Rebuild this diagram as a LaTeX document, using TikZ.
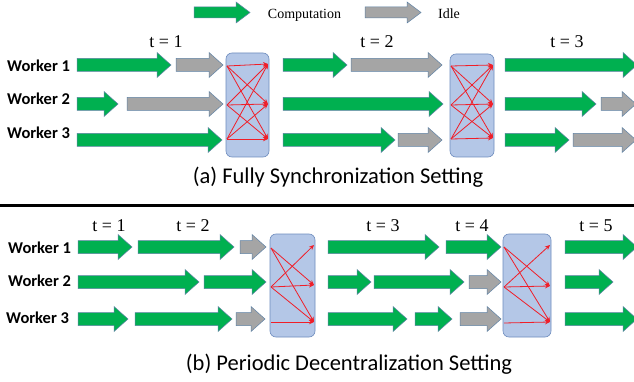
\documentclass[tikz,border=0pt]{standalone}
\usepackage{fontspec}
\setmainfont{Carlito}
\newfontfamily\tnr{Liberation Serif}
\usetikzlibrary{arrows.meta}
\definecolor{cgreen}{RGB}{0,176,80}
\definecolor{cgray}{RGB}{165,165,165}
\definecolor{cedge}{RGB}{95,130,165}
\definecolor{boxfill}{RGB}{180,199,231}
\definecolor{boxedge}{RGB}{110,140,190}
\definecolor{syncred}{RGB}{240,30,40}
% block arrow: x1, x2, y, fill colour, half shaft, half head
\newcommand{\blkarr}[6]{%
  \filldraw[fill=#4,draw=cedge,line width=0.5pt,line join=miter]
    (#1,#3-#5) -- (#2-14,#3-#5) -- (#2-14,#3-#6) -- (#2,#3)
    -- (#2-14,#3+#6) -- (#2-14,#3+#5) -- (#1,#3+#5) -- cycle;}
\newcommand{\garr}[3]{\blkarr{#1}{#2}{#3}{cgreen}{6.5}{12.5}}
\newcommand{\iarr}[3]{\blkarr{#1}{#2}{#3}{cgray}{6.5}{12.5}}
\tikzset{
  syncbox/.style={draw=boxedge,fill=boxfill,rounded corners=6pt,line width=0.6pt,inner sep=0pt},
  sync/.style={draw=syncred,line width=0.8pt,-{Stealth[length=5pt,width=4.5pt]}},
  worker/.style={anchor=base west,inner sep=0pt,font=\fontsize{16.5}{18}\selectfont\bfseries},
  tlabel/.style={anchor=base,inner sep=0pt,font=\tnr\fontsize{18}{20}\selectfont},
  legtext/.style={anchor=base,inner sep=0pt,font=\tnr\fontsize{14}{16}\selectfont},
  caption/.style={anchor=base,inner sep=0pt,font=\fontsize{22.5}{24}\selectfont},
}
\begin{document}
\begin{tikzpicture}[x=1pt,y=-1pt]
\clip (0,0) rectangle (634,382);
\fill[white] (0,0) rectangle (634,382);
% legend
\blkarr{194}{250}{12.5}{cgreen}{5.5}{10.5}
\node[legtext] (lcomp) at (304.5,19) {Computation};
\blkarr{365}{421}{12.5}{cgray}{5.5}{10.5}
\node[legtext] (lidle) at (449,19) {Idle};
% ---------- (a) ----------
\node[tlabel] (ta1) at (166,48) {t = 1};
\node[tlabel] (ta2) at (377,48) {t = 2};
\node[tlabel] (ta3) at (567,48) {t = 3};
\node[worker] (wa1) at (7,72) {Worker 1};
\node[worker] (wa2) at (7,105) {Worker 2};
\node[worker] (wa3) at (7,139) {Worker 3};
% row 1
\garr{77}{171}{65}
\iarr{176}{223}{65}
\garr{283}{347}{65}
\iarr{351}{442}{65}
\garr{505}{637}{65}
% row 2
\garr{77}{118}{104}
\iarr{127}{223}{104}
\garr{283}{443}{104}
\garr{505}{596}{104}
\iarr{601}{636}{104}
% row 3
\garr{77}{222}{140}
\garr{283}{395}{140}
\iarr{398}{442}{140}
\garr{505}{569}{140}
\iarr{573}{636}{140}
% sync boxes (a)
\node[syncbox,minimum width=43pt,minimum height=104pt] (sa1) at (247.5,105) {};
\node[syncbox,minimum width=44pt,minimum height=103pt] (sa2) at (472,105.5) {};
\coordinate (a1l1) at (227,66); \coordinate (a1l2) at (227,105); \coordinate (a1l3) at (227,139);
\coordinate (a1r1) at (268,64); \coordinate (a1r2) at (268,104); \coordinate (a1r3) at (268,139);
\coordinate (a2l1) at (451,66); \coordinate (a2l2) at (451,105); \coordinate (a2l3) at (451,139);
\coordinate (a2r1) at (493,65); \coordinate (a2r2) at (493,104); \coordinate (a2r3) at (493,138);
\foreach \b in {a1,a2}{
  \foreach \i in {1,2,3}{
    \foreach \j in {1,2,3}{
      \draw[sync] (\b l\i) -- (\b r\j);
    }
  }
}
\node[caption] (capa) at (338,184) {(a) Fully Synchronization Setting};
% divider
\draw[line width=3pt] (0,205) coordinate (dl) -- (634,205) coordinate (dr);
% ---------- (b) ----------
\node[tlabel] (tb1) at (109,231) {t = 1};
\node[tlabel] (tb2) at (193,231) {t = 2};
\node[tlabel] (tb3) at (383,231) {t = 3};
\node[tlabel] (tb4) at (472,231) {t = 4};
\node[tlabel] (tb5) at (596,231) {t = 5};
\node[worker] (wb1) at (8,253) {Worker 1};
\node[worker] (wb2) at (8,286) {Worker 2};
\node[worker] (wb3) at (6,323) {Worker 3};
% row 1
\garr{78}{132}{247}
\garr{138}{234}{247}
\iarr{240}{266}{247}
\garr{328}{439}{247}
\garr{446}{501}{247}
\garr{565}{637}{247}
% row 2
\garr{78}{199}{282}
\garr{204}{266}{282}
\garr{328}{371}{282}
\garr{374}{464}{282}
\iarr{469}{501}{282}
\garr{565}{613}{282}
% row 3
\garr{78}{128}{319}
\garr{135}{232}{319}
\iarr{236}{265}{319}
\garr{328}{407}{319}
\garr{415}{452}{319}
\iarr{460}{501}{319}
\garr{565}{637}{319}
% sync boxes (b)
\node[syncbox,minimum width=45pt,minimum height=103pt] (sb1) at (292.5,285.5) {};
\node[syncbox,minimum width=48pt,minimum height=103pt] (sb2) at (527,285.5) {};
\coordinate (b1l1) at (271,248); \coordinate (b1l2) at (271,287); \coordinate (b1l3) at (271,322);
\coordinate (b1r1) at (314,245); \coordinate (b1r2) at (314,285); \coordinate (b1r3) at (314,322);
\coordinate (b2l1) at (504,247); \coordinate (b2l2) at (504,287); \coordinate (b2l3) at (504,323);
\coordinate (b2r1) at (550,245); \coordinate (b2r2) at (550,286); \coordinate (b2r3) at (550,322);
\foreach \b in {b1,b2}{
  \draw[sync] (\b l1) -- (\b r2);
  \draw[sync] (\b l1) -- (\b r3);
  \draw[sync] (\b l2) -- (\b r1);
  \draw[sync] (\b l2) -- (\b r2);
  \draw[sync] (\b l2) -- (\b r3);
  \draw[sync] (\b l3) -- (\b r3);
}
\node[caption] (capb) at (349,370) {(b) Periodic Decentralization Setting};
\end{tikzpicture}
\end{document}
